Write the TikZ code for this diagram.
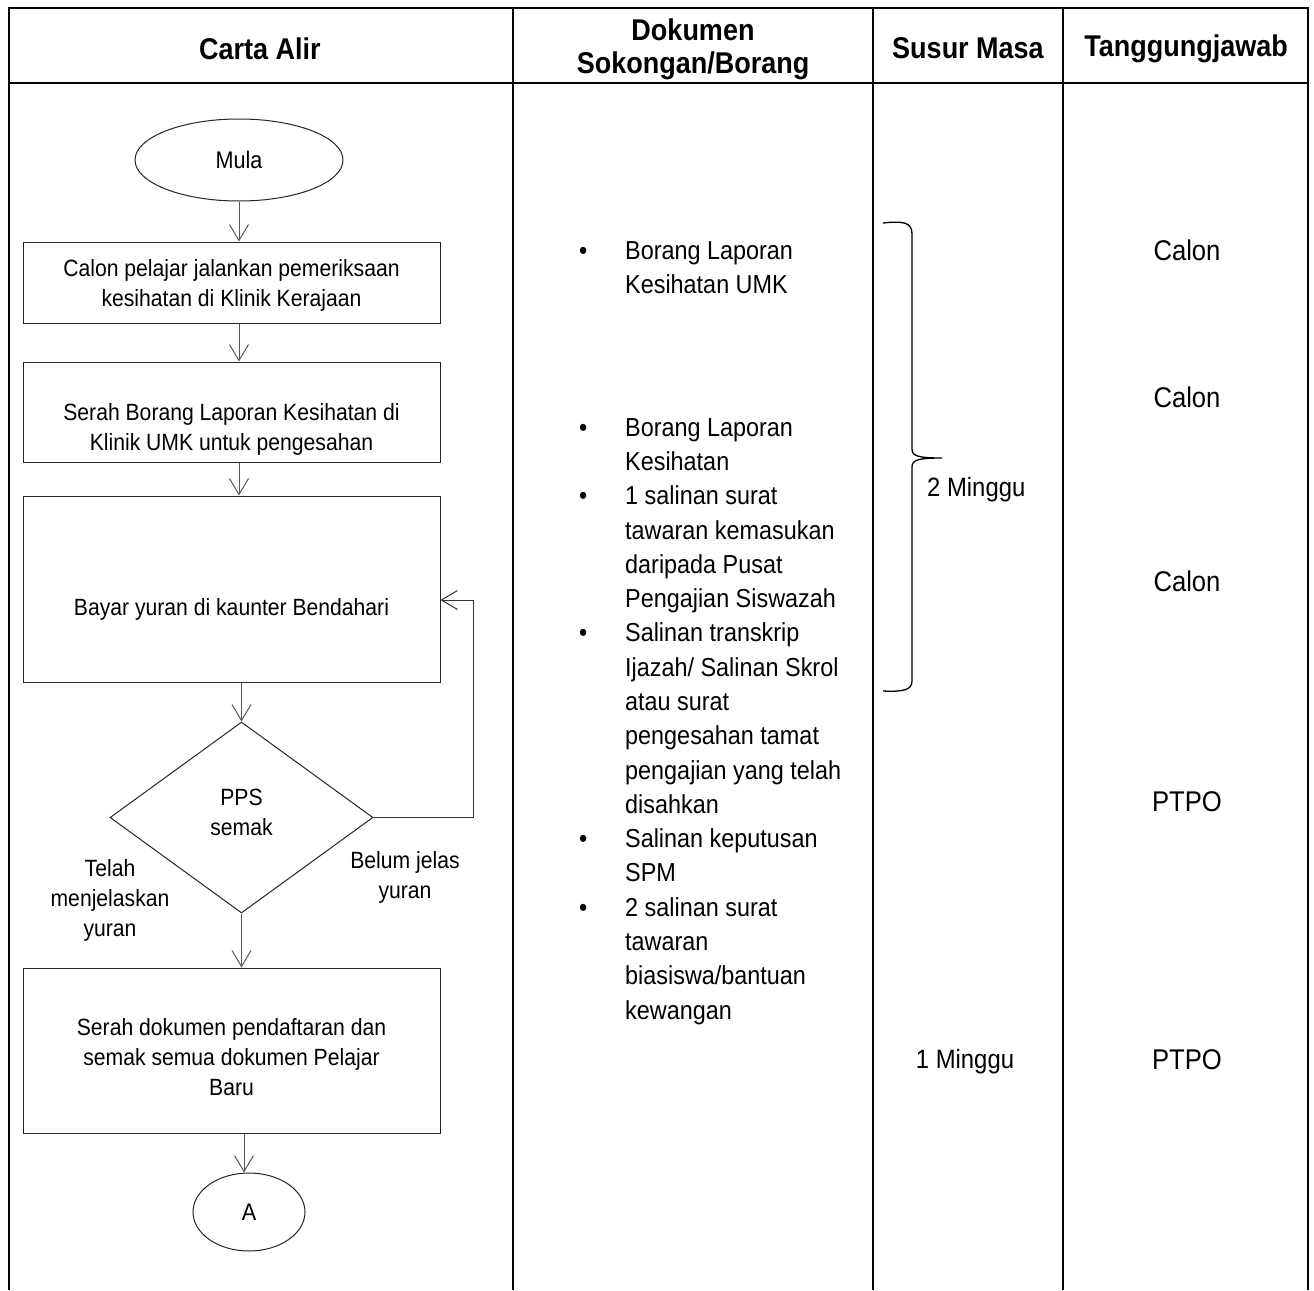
\documentclass[tikz,border=0pt]{standalone}
\usepackage{fontspec}
\setmainfont{Liberation Sans}[FakeStretch=0.9]
\usetikzlibrary{arrows.meta,shapes.geometric}
\newcommand\myblt{\llap{\textbullet\hspace{38pt}}}
\begin{document}
\begin{tikzpicture}[x=1pt,y=-1pt,
  gridline/.style={line width=2.4pt,black},
  shp/.style={draw=black!85,line width=1pt,inner sep=0pt},
  box/.style={shp,rectangle,minimum width=417pt},
  arr/.style={draw=black!65,line width=1pt,-{Straight Barb[length=16pt,width=19pt,line width=1pt]}},
  loopl/.style={draw=black!80,line width=1pt,-{Straight Barb[length=16pt,width=19pt,line width=1pt]}},
  hdr/.style={font=\fontsize{30}{33}\selectfont\bfseries,align=center},
  ftxt/.style={font=\fontsize{23.5}{30}\selectfont,align=center,inner sep=0pt},
  dtxt/.style={font=\fontsize{26}{34.3}\selectfont,align=left,inner sep=0pt,anchor=north west},
  ttxt/.style={font=\fontsize{26.5}{30}\selectfont,inner sep=0pt},
  rtxt/.style={font=\fontsize{28.5}{32}\selectfont,inner sep=0pt}
]
\useasboundingbox (0,0) rectangle (1314,1290);
\fill[white] (0,0) rectangle (1314,1290);
% table
\draw[gridline] (9,1290) -- (9,8) -- (1308,8) -- (1308,1290);
\draw[gridline] (9,83) -- (1308,83);
\draw[gridline] (513,8) -- (513,1290);
\draw[gridline] (873,8) -- (873,1290);
\draw[gridline] (1063,8) -- (1063,1290);
% headers
\node[hdr] (h1) at (260,49) {Carta Alir};
\node[hdr] (h2) at (693,49) {Dokumen\\Sokongan/Borang};
\node[hdr] (h3) at (968,48) {Susur Masa};
\node[hdr] (h4) at (1186,49) {Tanggungjawab};
% flowchart
\node[shp,ellipse,minimum width=208pt,minimum height=82pt,font=\fontsize{24}{30}\selectfont] (mula) at (239,160) {Mula};
\node[box,minimum height=81pt] (b1) at (231.5,282.5) {};
\node[ftxt] (t1) at (231.5,285) {Calon pelajar jalankan pemeriksaan\\kesihatan di Klinik Kerajaan};
\node[box,minimum height=100pt] (b2) at (231.5,412) {};
\node[ftxt] (t2) at (231.5,429) {Serah Borang Laporan Kesihatan di\\Klinik UMK untuk pengesahan};
\node[box,minimum height=186pt] (b3) at (231.5,589) {};
\node[ftxt] (t3) at (231.5,609) {Bayar yuran di kaunter Bendahari};
\node[shp,diamond,minimum width=263pt,minimum height=191pt] (dia) at (241.5,817.5) {};
\node[ftxt] (tdia) at (241.5,812) {PPS\\semak};
\node[box,minimum height=165pt] (b4) at (231.5,1050.5) {};
\node[ftxt] (t4) at (231.5,1057) {Serah dokumen pendaftaran dan\\semak semua dokumen Pelajar\\Baru};
\node[shp,ellipse,minimum width=112pt,minimum height=78pt,font=\fontsize{24}{30}\selectfont] (endA) at (249,1212) {A};
\node[ftxt] (lyes) at (110,900) {Telah\\menjelaskan\\yuran};
\node[ftxt] (lno) at (405,877) {Belum jelas\\yuran};
% connectors
\draw[arr] (mula.south) -- (b1.north -| mula.south);
\draw[arr] (b1.south -| mula.south) -- (b2.north -| mula.south);
\draw[arr] (b2.south -| mula.south) -- (b3.north -| mula.south);
\draw[arr] (b3.south -| dia.north) -- (dia.north);
\draw[arr] (dia.south) -- (b4.north -| dia.south);
\draw[arr] (b4.south -| endA.north) ++(-5pt,0) -- ([xshift=-5pt]endA.north);
\draw[loopl] (dia.east) -- ++(100,0) |- ([yshift=-11pt]b3.east);
% documents column
\node[dtxt] (d1) at (625,241) {\myblt Borang Laporan\\Kesihatan UMK};
\node[dtxt] (d2) at (625,418) {\myblt Borang Laporan\\Kesihatan\\
\myblt 1 salinan surat\\tawaran kemasukan\\daripada Pusat\\Pengajian Siswazah\\
\myblt Salinan transkrip\\Ijazah/ Salinan Skrol\\atau surat\\pengesahan tamat\\pengajian yang telah\\disahkan\\
\myblt Salinan keputusan\\SPM\\
\myblt 2 salinan surat\\tawaran\\biasiswa/bantuan\\kewangan};
% time column
\draw[line width=1.3pt,black] (883,223) .. controls (903,221) and (912,222) .. (912,234) -- (912,449)
  .. controls (912,456) and (918,458) .. (942,458)
  .. controls (918,458) and (912,460) .. (912,467) -- (912,681)
  .. controls (912,690) and (903,692) .. (883,691);
\node[ttxt,anchor=west] (m2) at (927,490) {2 Minggu};
\node[ttxt] (m1) at (965,1062) {1 Minggu};
% responsibility column
\node[rtxt] (r1) at (1187,250) {Calon};
\node[rtxt] (r2) at (1187,397) {Calon};
\node[rtxt] (r3) at (1187,581) {Calon};
\node[rtxt] (r4) at (1187,802) {PTPO};
\node[rtxt] (r5) at (1187,1060) {PTPO};
\end{tikzpicture}
\end{document}
